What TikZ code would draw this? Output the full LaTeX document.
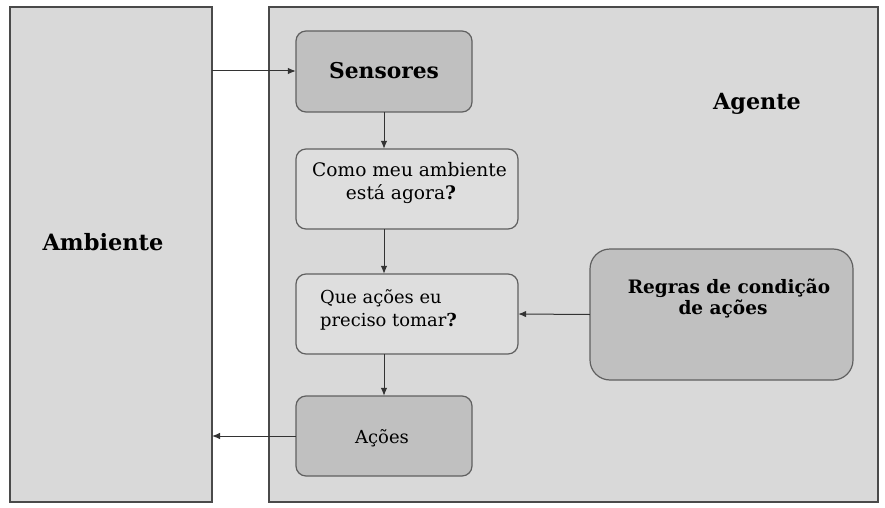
\documentclass[tikz,border=0pt]{standalone}
\usepackage{fontspec}
\setmainfont{DejaVu Serif}
\usetikzlibrary{arrows.meta}
\definecolor{bgbox}{HTML}{D9D9D9}
\definecolor{darkbox}{HTML}{C0C0C0}
\definecolor{lightbox}{HTML}{DEDEDE}
\definecolor{edge}{HTML}{4A4A4A}
\definecolor{redge}{HTML}{606060}
\tikzset{
  outerbox/.style={draw=edge, line width=1.3pt, fill=bgbox},
  darkr/.style={draw=redge, line width=1.2pt, fill=darkbox, rounded corners=10pt},
  lightr/.style={draw=redge, line width=1.2pt, fill=lightbox, rounded corners=10pt},
  conn/.style={draw=black!80, line width=1pt, -{Latex[length=8pt,width=6.5pt]}},
  lbl/.style={inner sep=0pt, text=black},
}
\begin{document}
\begin{tikzpicture}[x=1pt,y=-1pt]
\useasboundingbox[fill=white] (0,0) rectangle (885,508);
% outer boxes
\path[outerbox] (10,7) rectangle (212,502);
\path[outerbox] (269,7) rectangle (878,502);
\coordinate (ambR1) at (212,71);
\coordinate (ambR2) at (212,436);
\node[lbl, font=\fontsize{22.5}{26}\selectfont\bfseries] (amb) at (103,242) {Ambiente};
\node[lbl, font=\fontsize{22.3}{26}\selectfont\bfseries] (ag) at (757,104) {Agente};
% inner boxes
\path[darkr] (296,31) rectangle (472,112);
\node[minimum width=176pt, minimum height=81pt, inner sep=0pt] (sens) at (384,71.5) {};
\node[lbl, font=\fontsize{21.8}{26}\selectfont\bfseries] at (384,71) {Sensores};

\path[lightr] (296,149) rectangle (518,229);
\node[minimum width=222pt, minimum height=80pt, inner sep=0pt] (como) at (407,189) {};
\node[lbl, font=\fontsize{18.6}{23}\selectfont, anchor=base west] (como1) at (312,176)
  {Como meu ambiente};
\node[lbl, font=\fontsize{18.6}{23}\selectfont, anchor=base] (como2) at (401,199)
  {está agora\textbf{?}};

\path[lightr] (296,274) rectangle (518,354);
\node[minimum width=222pt, minimum height=80pt, inner sep=0pt] (que) at (407,314) {};
\node[lbl, font=\fontsize{17.9}{23}\selectfont, anchor=base west] (que1) at (320,303)
  {Que ações eu};
\node[lbl, font=\fontsize{17.9}{23}\selectfont, anchor=base west] (que2) at (320,326)
  {preciso tomar\textbf{?}};

\path[darkr] (296,396) rectangle (472,476);
\node[minimum width=176pt, minimum height=80pt, inner sep=0pt] (acoes) at (384,436) {};
\node[lbl, font=\fontsize{18}{22}\selectfont] at (382,438) {Ações};

\path[darkr, rounded corners=20pt] (590,249) rectangle (853,380);
\node[minimum width=263pt, minimum height=131pt, inner sep=0pt] (regras) at (721.5,314.5) {};
\node[lbl, font=\fontsize{18.5}{21}\selectfont\bfseries, anchor=base] (reg1) at (729,293)
  {Regras de condição};
\node[lbl, font=\fontsize{18.5}{21}\selectfont\bfseries, anchor=base] (reg2) at (723,314)
  {de ações};

% connectors
\draw[conn] (ambR1) -- (sens.west |- ambR1);
\draw[conn] (sens.south) -- (como.north -| sens.south);
\draw[conn] (como.south -| sens.south) -- (que.north -| sens.south);
\draw[conn] (que.south -| sens.south) -- (acoes.north);
\draw[conn] (regras.west) -- (que.east);
\draw[conn] (acoes.west) -- (ambR2);
\end{tikzpicture}
\end{document}
